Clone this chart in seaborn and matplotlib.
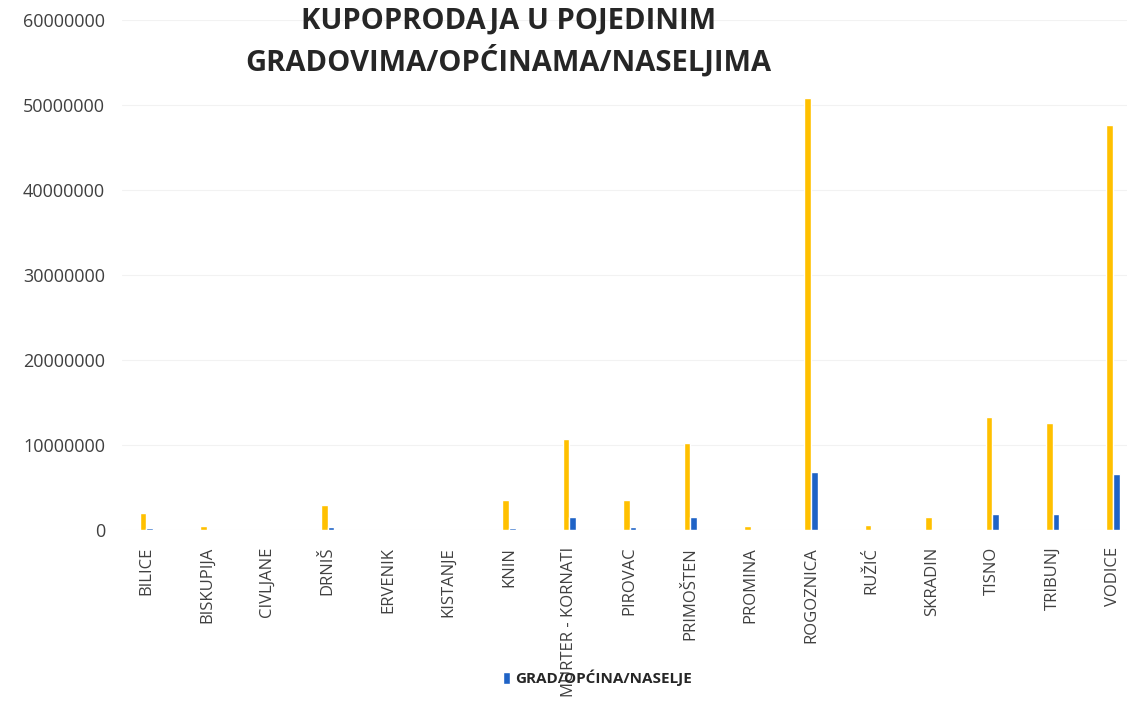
import matplotlib.pyplot as plt
import seaborn as sns
import pandas as pd

# podaci očitani s grafa
gradovi = [
    "BILICE", "BISKUPIJA", "CIVLJANE", "DRNIŠ", "ERVENIK", "KISTANJE",
    "KNIN", "MURTER - KORNATI", "PIROVAC", "PRIMOŠTEN", "PROMINA",
    "ROGOZNICA", "RUŽIĆ", "SKRADIN", "TISNO", "TRIBUNJ", "VODICE",
]
iznos_zuti = [
    2000000, 500000, 0, 2900000, 0, 0,
    3500000, 10700000, 3500000, 10200000, 500000,
    50800000, 600000, 1600000, 13300000, 12600000, 47700000,
]
iznos_plavi = [
    200000, 0, 0, 400000, 0, 0,
    300000, 1500000, 400000, 1500000, 0,
    6800000, 0, 100000, 1900000, 1900000, 6600000,
]
serije = ["UKUPNO", "GRAD/OPĆINA/NASELJE"]
boje = ["#FFC000", "#1F63C6"]

df = pd.concat(
    [
        pd.DataFrame({"grad": gradovi, "iznos": iznos_zuti, "serija": serije[0]}),
        pd.DataFrame({"grad": gradovi, "iznos": iznos_plavi, "serija": serije[1]}),
    ],
    ignore_index=True,
)

sns.set_style("white")
plt.rcParams["font.family"] = ["Open Sans", "DejaVu Sans"]

fig = plt.figure(figsize=(11.27, 7.04), dpi=100)
ax = fig.add_axes([0.108, 0.247, 0.892, 0.7244])

sns.barplot(
    data=df, x="grad", y="iznos", hue="serija", palette=boje,
    width=0.22, dodge=True, saturation=1, ax=ax, legend=False,
)

ax.set_ylim(0, 60000000)
ax.set_xlim(-0.41, 16.23)
ax.set_yticks(range(0, 60000001, 10000000))
ax.set_yticklabels([str(v) for v in range(0, 60000001, 10000000)],
                   fontsize=13, color="#404040")
ax.set_xticks(range(len(gradovi)))
ax.set_xticklabels(gradovi, rotation=90, fontsize=12, color="#404040",
                   va="top")
ax.tick_params(axis="y", length=0, pad=12)
ax.tick_params(axis="x", length=0, pad=12)
ax.set_xlabel("")
ax.set_ylabel("")
ax.yaxis.grid(True, color="#f2f2f2", linewidth=0.8)
for s in ax.spines.values():
    s.set_visible(False)

fig.text(0.451, 0.970, "KUPOPRODAJA U POJEDINIM", ha="center", va="center",
         fontsize=21, fontweight="bold", color="#262626")
fig.text(0.451, 0.913, "GRADOVIMA/OPĆINAMA/NASELJIMA", ha="center",
         va="center", fontsize=21, fontweight="bold", color="#262626")

plavi = ax.containers[1]
fig.legend([plavi.patches[0]], [serije[1]], loc="center",
           bbox_to_anchor=(0.53, 0.037), frameon=False,
           handlelength=0.5, handleheight=0.9, handletextpad=0.3,
           prop={"weight": "bold", "size": 11})

fig.savefig("out.png", dpi=100)
